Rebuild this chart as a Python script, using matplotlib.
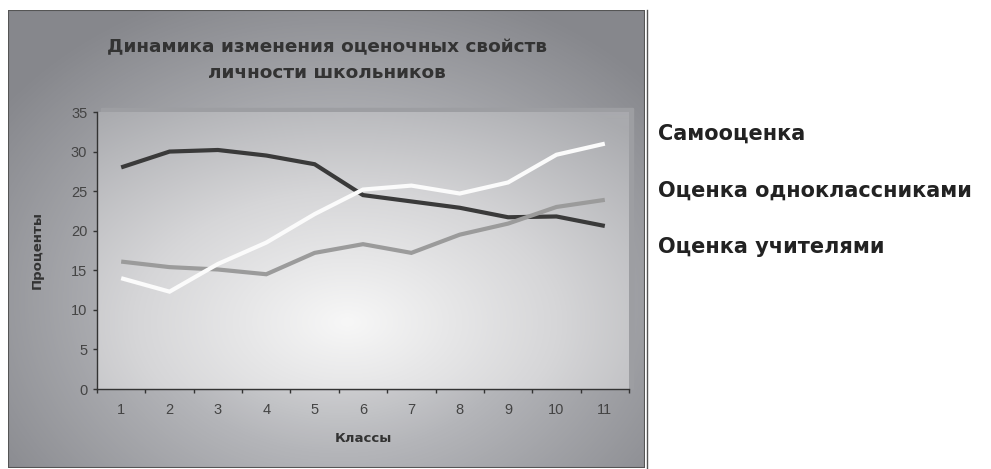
import numpy as np
import matplotlib
matplotlib.use("Agg")
import matplotlib.pyplot as plt
from matplotlib import font_manager
from matplotlib.colors import LinearSegmentedColormap
from matplotlib.patches import Rectangle

# данные: оценки по классам, %
grades = list(range(1, 12))
self_rating = [28.0, 30.0, 30.2, 29.5, 28.4, 24.5, 23.7, 22.9, 21.7, 21.8, 20.6]
classmates_rating = [16.1, 15.4, 15.1, 14.5, 17.2, 18.3, 17.2, 19.5, 20.9, 23.0, 23.9]
teachers_rating = [14.0, 12.3, 15.8, 18.5, 22.1, 25.2, 25.7, 24.7, 26.1, 29.6, 31.0]
series_names = ["Самооценка", "Оценка одноклассниками", "Оценка учителями"]
y_ticks = [0, 5, 10, 15, 20, 25, 30, 35]

W, H = 991, 469
installed = {f.name for f in font_manager.fontManager.ttflist}
narrow = "Liberation Sans Narrow" if "Liberation Sans Narrow" in installed else "Liberation Sans"
bold_font = "DejaVu Sans"
text_color = "#333333"

fig = plt.figure(figsize=(W / 100, H / 100), dpi=100)
fig.patch.set_facecolor("white")


def px_box(x0, y0, x1, y1):
    # прямоугольник в пикселях (от верхнего левого угла) -> доли фигуры
    return [x0 / W, 1 - y1 / H, (x1 - x0) / W, (y1 - y0) / H]


def radial(shape, cx, cy, rx, ry, power=1.0):
    ny, nx = shape
    yy, xx = np.mgrid[0:ny, 0:nx]
    d = np.sqrt(((xx - cx) / rx) ** 2 + ((yy - cy) / ry) ** 2)
    return np.clip(d, 0, 1) ** power


# область диаграммы с радиальной заливкой
box = (8, 10, 645, 468)
bg = fig.add_axes(px_box(*box))
bg.set_axis_off()
bw, bh = box[2] - box[0], box[3] - box[1]
box_cmap = LinearSegmentedColormap.from_list("box", ["#f2f2f2", "#b4b5b9", "#86878c"])
bg.imshow(radial((bh, bw), 330, 290, 420, 330, 0.9), cmap=box_cmap, vmin=0, vmax=1,
          extent=(0, bw, bh, 0), aspect="auto", interpolation="bilinear")
bg.set_xlim(0, bw)
bg.set_ylim(bh, 0)
# тень под областью построения
bg.add_patch(Rectangle((101 - box[0], 108 - box[1]), 532, 281, color="#9d9ea2", zorder=2))
bg.add_patch(Rectangle((0, 0), bw, bh, fill=False, ec="#555555", lw=1.5, zorder=3))
fig.add_artist(plt.Line2D([647 / W, 647 / W], [1 - 10 / H, 0], color="#555555", lw=1.0))

# область построения
ax = fig.add_axes(px_box(97, 112, 629, 389))
plot_cmap = LinearSegmentedColormap.from_list("plot", ["#f7f7f7", "#d6d6d8", "#a9aaae"])
ax.imshow(radial((277, 532), 250, 210, 420, 260, 1.0), cmap=plot_cmap, vmin=0, vmax=1,
          extent=(0.5, 11.5, 0, 35), aspect="auto", interpolation="bilinear", zorder=0)

lines = []
for vals, col in [(self_rating, "#3a3a3a"), (classmates_rating, "#9b9b9b"),
                  (teachers_rating, "#fbfbfb")]:
    ln, = ax.plot(grades, vals, color=col, lw=3.0, solid_capstyle="butt",
                  solid_joinstyle="miter", zorder=3)
    lines.append(ln)

ax.set_xlim(0.5, 11.5)
ax.set_ylim(0, 35)
for s in ["top", "right"]:
    ax.spines[s].set_visible(False)
for s in ["left", "bottom"]:
    ax.spines[s].set_color("#333333")
    ax.spines[s].set_linewidth(1.0)

ax.set_yticks(y_ticks)
ax.set_yticklabels([str(v) for v in y_ticks], fontfamily=narrow, fontsize=10.5, color="#444444")
ax.set_xticks(np.arange(0.5, 12.0, 1.0))
ax.set_xticklabels([])
ax.set_xticks(grades, minor=True)
ax.set_xticklabels([str(g) for g in grades], minor=True, fontfamily=narrow,
                   fontsize=10.5, color="#444444")
ax.tick_params(axis="y", direction="out", length=3, width=1, color="#333333", pad=4)
ax.tick_params(axis="x", which="major", direction="out", length=3, width=1, color="#333333")
ax.tick_params(axis="x", which="minor", length=0, pad=10)

fig.text(327 / W, 1 - 60 / H, "Динамика изменения оценочных свойств\nличности школьников",
         ha="center", va="center", fontfamily=bold_font, fontweight="bold", fontsize=13.3,
         color=text_color, linespacing=1.5)
fig.text(37 / W, 1 - 250 / H, "Проценты", rotation=90, ha="center", va="center",
         fontfamily=bold_font, fontweight="bold", fontsize=9.5, color=text_color)
fig.text(363 / W, 1 - 438 / H, "Классы", ha="center", va="center",
         fontfamily=bold_font, fontweight="bold", fontsize=9.5, color=text_color)

leg = fig.legend(lines, series_names, loc="upper left", bbox_to_anchor=(658 / W, 1 - 124 / H),
                 frameon=False, handlelength=0, handletextpad=0, labelspacing=1.75,
                 borderpad=0, borderaxespad=0,
                 prop={"family": bold_font, "weight": "bold", "size": 15})
for h in leg.legend_handles:
    h.set_visible(False)
for t in leg.get_texts():
    t.set_color("#222222")

fig.savefig("out.png", dpi=100)
